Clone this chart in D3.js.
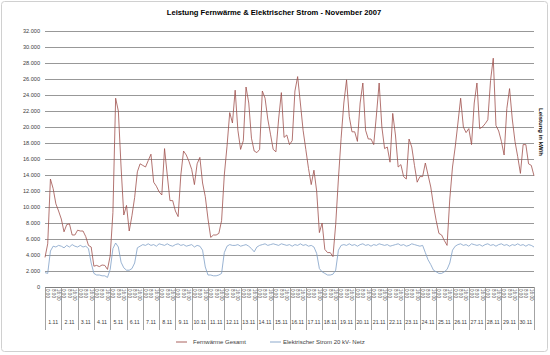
<!DOCTYPE html>
<html><head><meta charset="utf-8">
<script src="https://cdn.jsdelivr.net/npm/d3@7"></script>
<style>body{margin:0;background:#fff}svg{display:block;font-family:"Liberation Sans",Arial,sans-serif}</style>
</head><body><svg id="c" width="550" height="355"></svg>
<script>
const chartTitle = "Leistung Fernwärme & Elektrischer Strom - November 2007";
const yTitle = "Leistung in kW/h";
const days = ["1.11","2.11","3.11","4.11","5.11","6.11","7.11","8.11","9.11","10.11",
  "11.11","12.11","13.11","14.11","15.11","16.11","17.11","18.11","19.11","20.11",
  "21.11","22.11","23.11","24.11","25.11","26.11","27.11","28.11","29.11","30.11"];
const timeLabels = ["0:00","8:00","16:00"];
const yTicks = [0,2000,4000,6000,8000,10000,12000,14000,16000,18000,20000,22000,24000,26000,28000,30000,32000];
const seriesNames = ["Fernwärme Gesamt","Elektrischer Strom 20 kV- Netz"];
// values every 4 hours, 1.11 0:00 .. 30.11 24:00
const fernwaerme = [
  3700,5400,13500,12300,10400,9500,8500,6900,7800,7900,
  6500,6500,7100,7000,7000,6300,5200,5000,2600,2700,
  2550,2750,2700,2200,3900,9300,23600,22000,15000,9000,
  10200,7000,8900,11200,14400,15400,15200,15000,15800,16600,
  13100,12600,11900,11500,17300,14000,10800,10800,9500,8800,
  14000,17000,16500,15700,14700,12800,15400,16200,13000,11300,
  8500,6200,6500,6500,6700,8300,14000,17600,21800,20500,
  24600,19600,17200,18300,25000,23000,18600,17000,16800,17200,
  24500,23600,21000,19100,17200,16900,21000,24300,18700,19000,
  17800,18300,24500,26300,23000,19600,17200,14800,12800,14600,
  12000,6800,8000,4700,4300,4300,3800,7800,13500,18600,
  23000,25900,21300,19400,19400,18200,23000,25500,19600,18500,
  18500,17800,21500,25500,20000,17300,17500,15600,21700,19000,
  15000,15300,13800,13500,18500,17500,15200,13100,13800,13800,
  15500,14000,12500,10200,8300,6700,6500,5800,5200,11000,
  15000,17500,20500,23600,20000,19300,19800,17800,23000,25500,
  19800,20000,20400,20900,25800,28600,20200,19500,18200,16500,
  22300,24800,21000,18200,16300,14200,17800,17800,15400,15200,13900];
const strom = [
  1800,1700,4500,5100,5000,5200,5100,4900,5200,5000,
  5300,5100,5000,5200,5000,5100,4800,3000,1700,1500,
  1500,1400,1400,1200,2200,4800,5500,5000,3100,2400,
  2100,2100,2300,3000,4900,5100,5300,5200,5400,5200,
  5300,5100,5400,5300,5200,5400,5200,5100,5300,5400,
  5200,5300,5100,5200,5300,5000,5200,5100,4600,2500,
  1500,1500,1400,1400,1500,1700,4300,5100,5300,5200,
  5200,5300,5100,5200,5300,5100,4800,4400,5000,5200,
  5300,5400,5200,5300,5400,5300,5200,5400,5300,5200,
  5300,5100,5300,5200,5400,5200,5300,5100,5200,5000,
  4200,2300,1900,1700,1500,1500,1600,2100,4600,5200,
  5300,5200,5400,5200,5300,5100,5300,5400,5200,5300,
  5100,5300,5200,5400,5300,5200,5300,5100,5200,5300,
  5400,5200,5300,5100,5200,5400,5300,5200,5100,5200,
  4300,3400,2800,2100,1900,1700,1700,1900,2200,3000,
  4600,5100,5300,5400,5200,5300,5100,5400,5300,5200,
  5300,5100,5300,5400,5200,5300,5100,5300,5400,5200,
  5300,5100,5300,5200,5400,5200,5300,5100,5300,5200,5000];
const colors = ["#a0504d","#7f9fc6"];

const svg = d3.select("#c");
const L = 45, R = 534, T = 31, B = 287;
const x = d3.scaleLinear().domain([0, fernwaerme.length - 1]).range([L, R]);
const y = d3.scaleLinear().domain([0, 32000]).range([B, T]);
const band = d3.scaleBand().domain(days).range([L, R]);
const inner = d3.scaleBand().domain(timeLabels).range([0, band.bandwidth()]);
const fmt = d3.formatLocale({decimal: ",", thousands: ".", grouping: [3], currency: ["", "€"]}).format(",.0f");

// chart frame
svg.append("rect").attr("x",1.5).attr("y",1.5).attr("width",546).attr("height",350)
  .attr("rx",3).attr("fill","#fff").attr("stroke","#d0d0d0");

// title
svg.append("text").attr("x",274).attr("y",15).attr("text-anchor","middle")
  .attr("font-size",7.6).attr("font-weight","bold").attr("fill","#000").text(chartTitle);

// y axis + gridlines
const ya = svg.append("g").attr("transform",`translate(${L},0)`)
  .call(d3.axisLeft(y).tickValues(yTicks).tickFormat(fmt).tickSize(-(R - L)).tickPadding(5));
ya.select(".domain").remove();
ya.selectAll(".tick line").attr("stroke","#8c8c8c").attr("stroke-width",0.9);
ya.selectAll(".tick text").attr("font-size",5.6).attr("fill","#404040").attr("font-family","Liberation Sans, Arial, sans-serif");

// x axis line
svg.append("line").attr("x1",L).attr("x2",R).attr("y1",B+0.5).attr("y2",B+0.5).attr("stroke","#7f7f7f");

// category separators
const bounds = days.map(d => band(d)).concat([R]);
svg.append("g").selectAll("line").data(bounds).join("line")
  .attr("x1",d => Math.round(d)+0.5).attr("x2",d => Math.round(d)+0.5)
  .attr("y1",B).attr("y2",330).attr("stroke","#8c8c8c").attr("stroke-width",0.8);

// time labels (rotated)
const tl = svg.append("g");
days.forEach(d => {
  timeLabels.forEach(t => {
    const cx = band(d) + inner(t) + inner.bandwidth()/2;
    tl.append("text").attr("transform",`translate(${cx},289) rotate(90)`)
      .attr("dy","0.35em").attr("font-size",4.6).attr("fill","#404040").text(t);
  });
});

// day labels
svg.append("g").selectAll("text").data(days).join("text")
  .attr("x",d => band(d) + band.bandwidth()/2).attr("y",324).attr("text-anchor","middle")
  .attr("font-size",5.3).attr("fill","#404040").text(d => d);

// lines
const line = d3.line().x((d,i) => x(i)).y(d => y(d));
svg.append("path").datum(strom).attr("d",line).attr("fill","none")
  .attr("stroke",colors[1]).attr("stroke-width",0.8);
svg.append("path").datum(fernwaerme).attr("d",line).attr("fill","none")
  .attr("stroke",colors[0]).attr("stroke-width",0.8);

// y title
svg.append("text").attr("transform","translate(539,132) rotate(90)").attr("text-anchor","middle")
  .attr("font-size",6).attr("font-weight","bold").attr("fill","#000").text(yTitle);

// legend
const leg = [{x:176, tx:193},{x:270, tx:283}];
seriesNames.forEach((n,i) => {
  svg.append("line").attr("x1",leg[i].x).attr("x2",leg[i].x+11).attr("y1",342).attr("y2",342)
    .attr("stroke",colors[i]).attr("stroke-width",0.9);
  svg.append("text").attr("x",leg[i].tx).attr("y",344).attr("font-size",6).attr("fill","#404040").text(n);
});
</script></body></html>
